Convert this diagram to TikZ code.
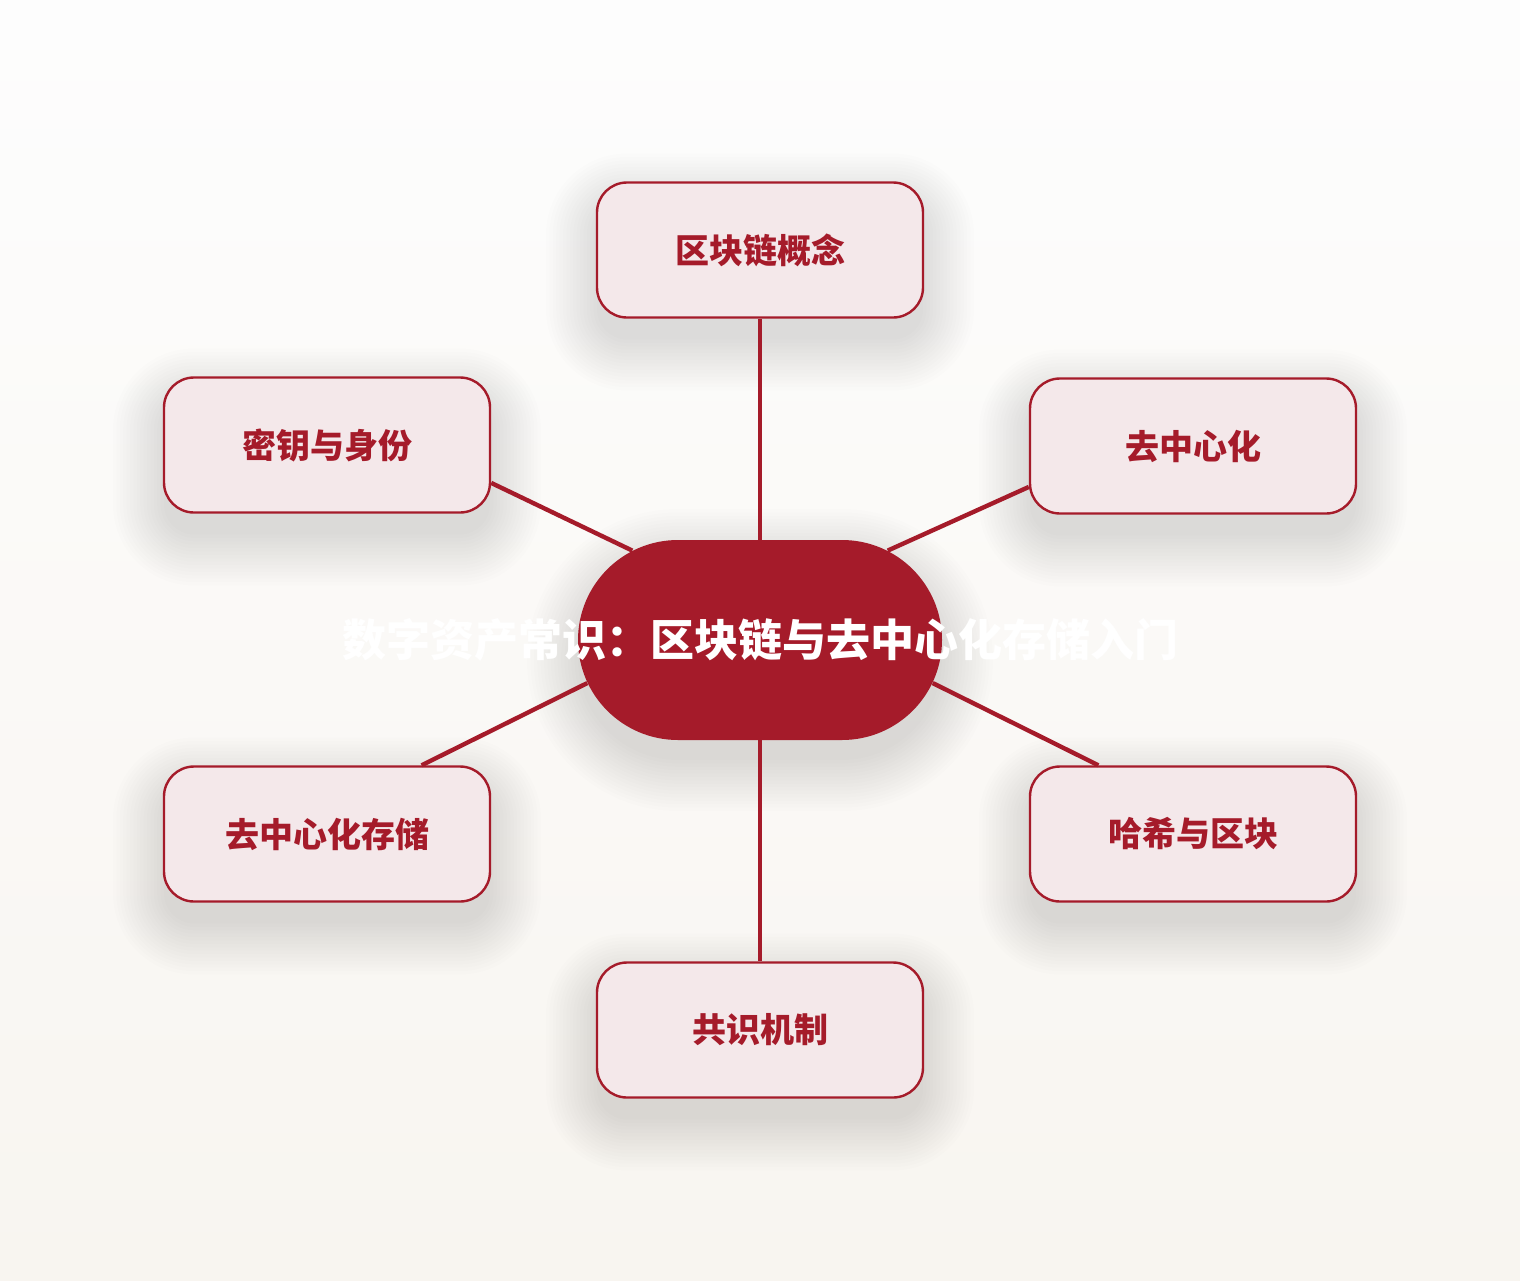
\documentclass[tikz,border=0pt]{standalone}
\usepackage{fontspec}
\newfontfamily\cjk{Noto Sans CJK SC}
\usetikzlibrary{shapes.misc}
\definecolor{hubred}{HTML}{A51B2A}
\definecolor{leaffill}{HTML}{F4E8EA}
\definecolor{bgtop}{HTML}{FDFDFD}
\definecolor{bgbot}{HTML}{F8F5F0}
\tikzset{
  shadowlayer/.style={fill=black!85,opacity=.009},
  leaf/.style={draw=hubred,line width=1.2pt,fill=leaffill,rounded corners=15pt,
      minimum width=163pt,minimum height=67.5pt,text=hubred,
      font=\cjk\bfseries\fontsize{17pt}{20pt}\selectfont},
  hub/.style={rounded rectangle,fill=hubred,minimum width=182pt,
      minimum height=100pt,inner sep=0pt},
  link/.style={draw=hubred,line width=2.2pt}
}
\begin{document}
\begin{tikzpicture}[x=0.5pt,y=-0.5pt]
    \useasboundingbox (0,0) rectangle (1520,1280);
    \fill[top color=bgtop,bottom color=bgbot] (0,0) rectangle (1520,1280);
    % weiche Schatten
    \foreach \k in {0,...,15} {
        \fill[shadowlayer,rounded corners=50pt+\k*1.7pt]
            (760-182-\k*3.4,540-\k*3.4+20) rectangle (760+182+\k*3.4,740+\k*3.4+20);
    }
    \node [hub,name=c,label={[text=white,font=\cjk\bfseries\fontsize{22pt}{26pt}\selectfont]center:数字资产常识：区块链与去中心化存储入门}] at (760,640) {};
    \foreach \n/\x/\y/\t in {chain/760/250/区块链概念,key/327/445/密钥与身份,
        decent/1193/446/去中心化,store/327/834/去中心化存储,
        hash/1193/834/哈希与区块,consensus/760/1030/共识机制} {
        \foreach \k in {0,...,15} {
            \fill[shadowlayer,rounded corners=15pt+\k*1.7pt]
                (\x-163-\k*3.4,\y-67.5-\k*3.4+22) rectangle (\x+163+\k*3.4,\y+67.5+\k*3.4+22);
        }
        \node [leaf,name=\n] at (\x,\y) {\t};
    }
    % Verbindungen vom Zentrum zu den Themen
    \draw [link] (c.north) -- (chain.south);
    \draw [link] (c.145) -- (key.-13.5);
    \draw [link] (c.35) -- (decent.-166);
    \draw [link] (c.194) -- (store.36);
    \draw [link] (c.-14) -- (hash.144);
    \draw [link] (c.south) -- (consensus.north);
\end{tikzpicture}
\end{document}
